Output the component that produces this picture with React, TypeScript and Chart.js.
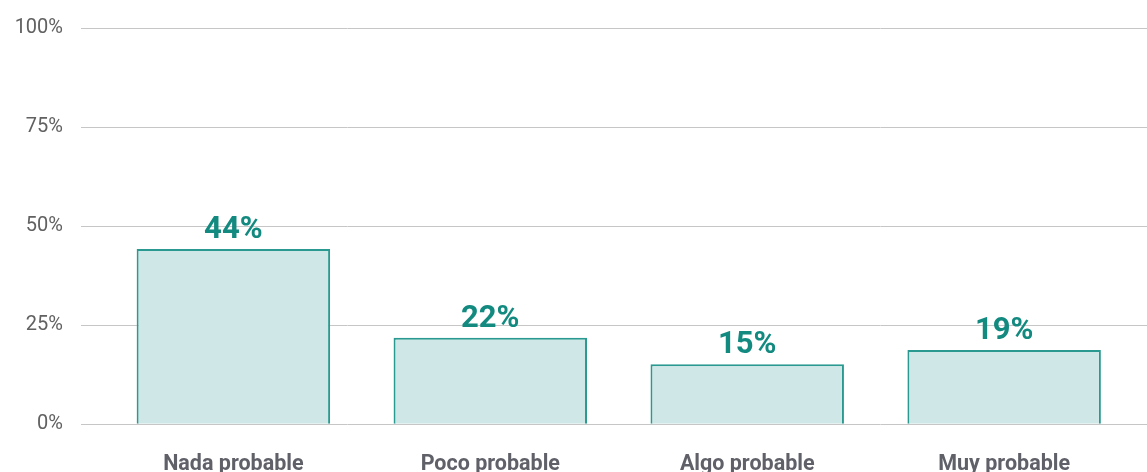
import React, { useEffect, useRef } from "react";
import { Chart, registerables } from "chart.js";

Chart.register(...registerables);

const categories = ["Nada probable", "Poco probable", "Algo probable", "Muy probable"];
const values = [44.2, 21.8, 15.1, 18.7];
const valueLabels = ["44%", "22%", "15%", "19%"];
const yTicks = [0, 25, 50, 75, 100];

const TEAL = "#138a80";

const valueLabelPlugin = {
  id: "valueLabels",
  afterDatasetsDraw(chart: any) {
    const ctx = chart.ctx;
    const meta = chart.getDatasetMeta(0);
    ctx.save();
    ctx.fillStyle = TEAL;
    ctx.font = "bold 31px Roboto";
    ctx.textAlign = "center";
    ctx.textBaseline = "alphabetic";
    meta.data.forEach((bar: any, i: number) => {
      ctx.fillText(valueLabels[i], bar.x, bar.y - 11);
    });
    ctx.restore();
  },
};

export default function App() {
  const ref = useRef<HTMLCanvasElement>(null);
  useEffect(() => {
    document.body.style.margin = "0";
    const chart = new Chart(ref.current!, {
      type: "bar",
      data: {
        datasets: [
          {
            data: values.map((v, i) => ({ x: i, y: v })),
            backgroundColor: "#cfe7e6",
            borderColor: "#2a9a90",
            borderWidth: 2,
            barPercentage: 0.753,
            categoryPercentage: 1,
          },
        ],
      },
      options: {
        animation: false,
        responsive: false,
        maintainAspectRatio: false,
        layout: { padding: { top: 28, right: 0, bottom: -34, left: 0 } },
        plugins: { legend: { display: false }, tooltip: { enabled: false } },
        scales: {
          x: {
            type: "linear",
            offset: false,
            min: -0.593,
            max: 3.556,
            grid: { display: false, drawTicks: false, offset: false },
            border: { display: false },
            afterBuildTicks: (scale: any) => {
              scale.ticks = categories.map((_, i) => ({ value: i }));
            },
            ticks: {
              padding: 28,
              color: "#5f6068",
              font: { family: "Roboto", size: 21.5, weight: "bold" },
              callback: (v: any) => categories[v] ?? "",
            },
          },
          y: {
            min: 0,
            max: 100,
            afterBuildTicks: (scale: any) => {
              scale.ticks = yTicks.map((v) => ({ value: v }));
            },
            afterFit: (scale: any) => {
              scale.width = 81;
              scale.paddingTop = 0;
              scale.paddingBottom = 0;
            },
            grid: { color: "#c6c6c6", lineWidth: 1, drawTicks: false },
            border: { display: false },
            ticks: {
              padding: 18,
              color: "#616161",
              font: { family: "Roboto", size: 20 },
              callback: (v: any) => v + "%",
            },
          },
        },
      },
      plugins: [valueLabelPlugin],
    });
    return () => chart.destroy();
  }, []);
  return (
    <div style={{ position: "absolute", left: 0, top: 0, width: 1147, height: 472 }}>
      <canvas ref={ref} width={1147} height={472} />
    </div>
  );
}
